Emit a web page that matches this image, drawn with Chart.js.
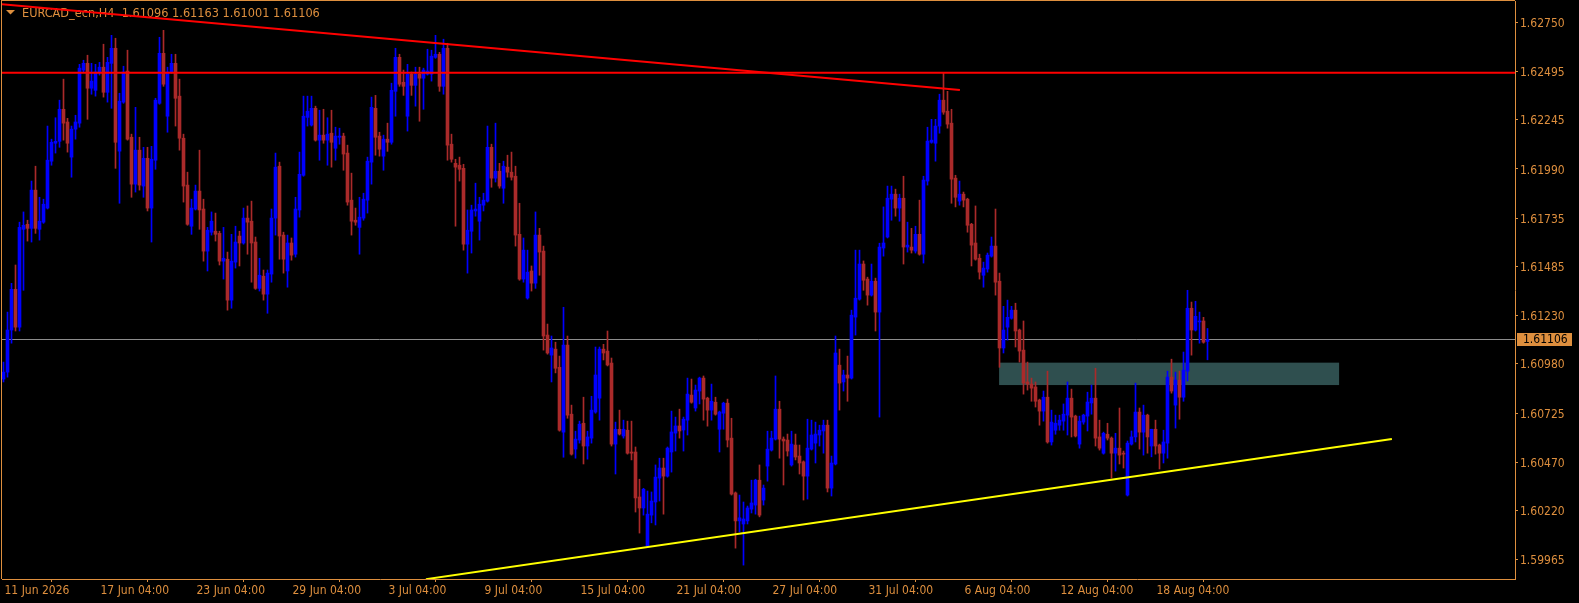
<!DOCTYPE html>
<html>
<head>
<meta charset="utf-8">
<script src="https://cdn.jsdelivr.net/npm/chart.js@4.4.0/dist/chart.umd.min.js"></script>
<style>
  html, body { margin: 0; padding: 0; background: #000; overflow: hidden; }
  canvas { display: block; }
</style>
</head>
<body>
<canvas id="chart" width="1579" height="603"></canvas>
<script>
const symbol = 'EURCAD_ecn,H4';

// H4 candles, bar 0 = 11 Jun 2026 00:00
const opens = [
  1.60901,1.60937,1.61155,1.61366,1.61170,1.61677,1.61703,1.61682,1.61880,1.61677,
  1.61714,1.61787,1.62030,1.62123,1.62133,1.62299,1.62233,1.62051,1.62196,1.62227,
  1.62502,1.62537,1.62408,1.62397,1.62492,1.62517,1.62387,1.62537,1.62615,1.62082,
  1.62336,1.62497,1.62154,1.61911,1.62087,1.61901,1.62045,1.61787,1.62035,1.62330,
  1.62589,1.62263,1.62492,1.62537,1.62367,1.62149,1.61906,1.61693,1.61782,1.61875,
  1.61782,1.61564,1.61662,1.61667,1.61656,1.61512,1.61522,1.61310,1.61507,1.61642,
  1.61606,1.61735,1.61719,1.61611,1.61371,1.61434,1.61341,1.61445,1.61735,1.62004,
  1.61647,1.61461,1.61606,1.61548,1.61777,1.61957,1.62257,1.62217,1.62304,1.62139,
  1.62165,1.62139,1.62175,1.62097,1.62154,1.62160,1.62072,1.61828,1.61724,1.61687,
  1.61735,1.61828,1.62025,1.62304,1.62160,1.62056,1.62144,1.62128,1.62392,1.62568,
  1.62439,1.62263,1.62481,1.62423,1.62481,1.62460,1.62481,1.62481,1.62568,1.62584,
  1.62418,1.62615,1.62118,1.62019,1.62009,1.61993,1.61600,1.61667,1.61772,1.61719,
  1.61802,1.61823,1.62102,1.61942,1.61978,1.61890,1.61999,1.61973,1.61952,1.61651,
  1.61419,1.61321,1.61461,1.61398,1.61647,1.61564,1.61129,1.61025,1.61056,1.60962,
  1.60626,1.61077,1.60719,1.60538,1.60585,1.60672,1.60554,1.60595,1.60730,1.60802,
  1.61056,1.61046,1.60984,1.60564,1.60641,1.60606,1.60636,1.60523,1.60523,1.60290,
  1.60233,1.60036,1.60196,1.60264,1.60388,1.60440,1.60398,1.60523,1.60621,1.60658,
  1.60637,1.60688,1.60818,1.60751,1.60839,1.60906,1.60802,1.60740,1.60781,1.60641,
  1.60724,1.60776,1.60595,1.60311,1.60166,1.60150,1.60166,1.60227,1.60248,1.60377,
  1.60274,1.60450,1.60533,1.60590,1.60745,1.60590,1.60585,1.60456,1.60559,1.60502,
  1.60472,1.60398,1.60538,1.60569,1.60611,1.60632,1.60662,1.60336,1.60461,1.60973,
  1.60886,1.60922,1.60906,1.61222,1.61315,1.61497,1.61419,1.61336,1.61408,1.61248,
  1.61580,1.61637,1.61833,1.61859,1.61787,1.61838,1.61585,1.61585,1.61564,1.61651,
  1.61548,1.61927,1.62128,1.62123,1.62212,1.62346,1.62289,1.62227,1.61942,1.61823,
  1.61859,1.61833,1.61703,1.61606,1.61527,1.61439,1.61471,1.61538,1.61590,1.61408,
  1.61062,1.61170,1.61216,1.61258,1.61155,1.61051,1.60886,1.60875,1.60860,1.60792,
  1.60735,1.60807,1.60575,1.60636,1.60662,1.60683,1.60714,1.60802,1.60709,1.60564,
  1.60678,1.60709,1.60777,1.60802,1.60601,1.60517,1.60615,1.60595,1.60517,1.60543,
  1.60517,1.60300,1.60564,1.60601,1.60730,1.60626,1.60714,1.60554,1.60641,1.60559,
  1.60517,1.60569,1.60911,1.60766,1.60896,1.60807,1.60942,1.61268,1.61155,1.61197,
  1.61202,1.61096
];
const highs = [
  1.60989,1.61248,1.61397,1.61492,1.61714,1.61767,1.61724,1.61927,1.62004,1.61843,
  1.61833,1.62212,1.62144,1.62255,1.62346,1.62455,1.62252,1.62212,1.62268,1.62532,
  1.62553,1.62579,1.62537,1.62532,1.62542,1.62636,1.62568,1.62682,1.62667,1.62382,
  1.62522,1.62605,1.62170,1.62309,1.62154,1.62102,1.62102,1.62107,1.62356,1.62672,
  1.62708,1.62517,1.62584,1.62584,1.62455,1.62170,1.61973,1.61833,1.61906,1.62087,
  1.61833,1.61687,1.61767,1.61761,1.61667,1.61687,1.61559,1.61651,1.61693,1.61667,
  1.61787,1.61798,1.61823,1.61637,1.61527,1.61466,1.61466,1.61782,1.62072,1.62025,
  1.61662,1.61647,1.61632,1.61843,1.62077,1.62367,1.62367,1.62367,1.62315,1.62294,
  1.62299,1.62255,1.62294,1.62206,1.62201,1.62175,1.62113,1.61968,1.61787,1.61843,
  1.61864,1.62051,1.62362,1.62371,1.62180,1.62165,1.62227,1.62434,1.62615,1.62584,
  1.62502,1.62532,1.62492,1.62517,1.62517,1.62512,1.62610,1.62605,1.62682,1.62594,
  1.62662,1.62641,1.62170,1.62040,1.62051,1.62014,1.61777,1.61802,1.61916,1.61843,
  1.61864,1.62212,1.62118,1.62227,1.62019,1.62030,1.62061,1.62077,1.62004,1.61812,
  1.61632,1.61569,1.61487,1.61767,1.61682,1.61590,1.61186,1.61124,1.61092,1.61020,
  1.61273,1.61124,1.60766,1.60631,1.60683,1.60807,1.60631,1.60812,1.61067,1.61067,
  1.61081,1.61150,1.61010,1.60678,1.60740,1.60688,1.60683,1.60683,1.60549,1.60382,
  1.60335,1.60321,1.60316,1.60456,1.60491,1.60491,1.60549,1.60735,1.60704,1.60745,
  1.60704,1.60906,1.60901,1.60870,1.60911,1.60917,1.60807,1.60875,1.60807,1.60735,
  1.60781,1.60797,1.60698,1.60316,1.60300,1.60264,1.60243,1.60377,1.60382,1.60456,
  1.60352,1.60631,1.60631,1.60917,1.60786,1.60601,1.60616,1.60631,1.60616,1.60559,
  1.60477,1.60693,1.60688,1.60678,1.60662,1.60688,1.60688,1.60502,1.61124,1.61056,
  1.60947,1.61020,1.61258,1.61569,1.61569,1.61513,1.61429,1.61497,1.61424,1.61605,
  1.61793,1.61901,1.61901,1.61885,1.61859,1.61952,1.61714,1.61682,1.61693,1.61828,
  1.61952,1.62206,1.62247,1.62247,1.62377,1.62486,1.62392,1.62299,1.61957,1.61927,
  1.61870,1.61838,1.61708,1.61798,1.61548,1.61507,1.61554,1.61637,1.61782,1.61450,
  1.61278,1.61310,1.61278,1.61294,1.61160,1.61202,1.60989,1.60906,1.60886,1.60797,
  1.60839,1.60942,1.60740,1.60714,1.60714,1.60772,1.60886,1.60849,1.60714,1.60709,
  1.60719,1.60833,1.60870,1.60957,1.60688,1.60626,1.60672,1.60601,1.60620,1.60751,
  1.60528,1.60580,1.60632,1.60880,1.60751,1.60766,1.60719,1.60641,1.60688,1.60564,
  1.60636,1.60942,1.61004,1.60937,1.60942,1.61041,1.61361,1.61300,1.61304,1.61248,
  1.61221,1.61163
];
const lows = [
  1.60886,1.60911,1.61087,1.61150,1.61150,1.61361,1.61616,1.61611,1.61656,1.61621,
  1.61708,1.61782,1.62009,1.62072,1.62102,1.62139,1.62077,1.61947,1.62144,1.62206,
  1.62492,1.62247,1.62377,1.62367,1.62476,1.62362,1.62336,1.62304,1.61993,1.61812,
  1.62330,1.62139,1.61843,1.61870,1.61880,1.61843,1.61772,1.61611,1.61988,1.62325,
  1.62418,1.62180,1.62486,1.62212,1.62087,1.61818,1.61698,1.61651,1.61777,1.61677,
  1.61512,1.61461,1.61647,1.61616,1.61492,1.61419,1.61258,1.61268,1.61476,1.61487,
  1.61600,1.61548,1.61403,1.61366,1.61357,1.61310,1.61242,1.61403,1.61647,1.61522,
  1.61450,1.61377,1.61517,1.61533,1.61740,1.61952,1.62212,1.62212,1.62134,1.62035,
  1.62123,1.62009,1.61999,1.62035,1.62118,1.61983,1.61802,1.61647,1.61698,1.61548,
  1.61724,1.61761,1.61911,1.62061,1.62056,1.61983,1.62081,1.62118,1.62263,1.62418,
  1.62371,1.62186,1.62371,1.62315,1.62237,1.62299,1.62476,1.62445,1.62563,1.62392,
  1.62377,1.62035,1.62025,1.61693,1.61927,1.61569,1.61450,1.61554,1.61745,1.61621,
  1.61772,1.61818,1.61895,1.61922,1.61890,1.61812,1.61947,1.61932,1.61590,1.61413,
  1.61403,1.61315,1.61357,1.61371,1.61439,1.61051,1.61030,1.60886,1.60933,1.60631,
  1.60496,1.60698,1.60507,1.60491,1.60569,1.60461,1.60486,1.60569,1.60724,1.60688,
  1.61000,1.60969,1.60554,1.60409,1.60611,1.60595,1.60512,1.60482,1.60212,1.60103,
  1.60196,1.60031,1.60156,1.60145,1.60269,1.60201,1.60393,1.60419,1.60528,1.60595,
  1.60528,1.60611,1.60776,1.60735,1.60772,1.60688,1.60657,1.60688,1.60714,1.60523,
  1.60641,1.60549,1.60300,1.60025,1.60109,1.59937,1.60150,1.60207,1.60201,1.60187,
  1.60248,1.60372,1.60528,1.60585,1.60491,1.60352,1.60502,1.60450,1.60482,1.60409,
  1.60274,1.60279,1.60533,1.60466,1.60554,1.60517,1.60316,1.60295,1.60456,1.60740,
  1.60839,1.60786,1.60901,1.61129,1.61310,1.61361,1.61284,1.61331,1.61150,1.60704,
  1.61538,1.61632,1.61724,1.61745,1.61719,1.61497,1.61559,1.61554,1.61554,1.61543,
  1.61502,1.61906,1.62123,1.62030,1.62175,1.62273,1.62201,1.61812,1.61793,1.61802,
  1.61793,1.61662,1.61487,1.61517,1.61419,1.61377,1.61455,1.61533,1.61336,1.60962,
  1.61036,1.61103,1.61211,1.61067,1.60989,1.60823,1.60844,1.60786,1.60756,1.60662,
  1.60683,1.60569,1.60559,1.60615,1.60636,1.60636,1.60611,1.60601,1.60601,1.60543,
  1.60667,1.60632,1.60719,1.60554,1.60533,1.60512,1.60585,1.60388,1.60424,1.60461,
  1.60440,1.60295,1.60559,1.60575,1.60538,1.60507,1.60517,1.60498,1.60512,1.60435,
  1.60466,1.60491,1.60828,1.60647,1.60693,1.60786,1.60891,1.61025,1.61150,1.61087,
  1.61087,1.61001
];
const closes = [
  1.60937,1.61155,1.61366,1.61170,1.61687,1.61698,1.61682,1.61880,1.61682,1.61719,
  1.61807,1.62035,1.62128,1.62133,1.62299,1.62227,1.62123,1.62196,1.62233,1.62512,
  1.62537,1.62408,1.62445,1.62492,1.62517,1.62387,1.62542,1.62615,1.62128,1.62341,
  1.62492,1.62144,1.61911,1.62087,1.61906,1.62045,1.61787,1.62040,1.62346,1.62589,
  1.62429,1.62492,1.62537,1.62356,1.62149,1.61901,1.61703,1.61787,1.61875,1.61777,
  1.61564,1.61672,1.61719,1.61651,1.61512,1.61527,1.61310,1.61512,1.61611,1.61606,
  1.61735,1.61714,1.61606,1.61371,1.61439,1.61341,1.61450,1.61735,1.61999,1.61642,
  1.61522,1.61606,1.61543,1.61782,1.61962,1.62263,1.62289,1.62304,1.62139,1.62165,
  1.62139,1.62170,1.62128,1.62160,1.62160,1.62067,1.61818,1.61719,1.61714,1.61740,
  1.61833,1.62030,1.62309,1.62154,1.62092,1.62144,1.62128,1.62397,1.62568,1.62429,
  1.62418,1.62481,1.62423,1.62481,1.62460,1.62502,1.62497,1.62574,1.62584,1.62418,
  1.62615,1.62113,1.62040,1.61999,1.61988,1.61600,1.61672,1.61777,1.61782,1.61807,
  1.61828,1.62102,1.61942,1.61978,1.61901,1.62004,1.61973,1.61947,1.61647,1.61419,
  1.61569,1.61455,1.61398,1.61647,1.61559,1.61124,1.61036,1.61062,1.60957,1.60636,
  1.61077,1.60714,1.60512,1.60590,1.60667,1.60554,1.60601,1.60740,1.60922,1.61056,
  1.61036,1.60974,1.60564,1.60641,1.60616,1.60641,1.60517,1.60517,1.60285,1.60233,
  1.60330,1.60201,1.60269,1.60393,1.60440,1.60398,1.60543,1.60627,1.60658,1.60632,
  1.60693,1.60823,1.60781,1.60844,1.60906,1.60797,1.60740,1.60786,1.60719,1.60730,
  1.60776,1.60585,1.60305,1.60166,1.60182,1.60176,1.60233,1.60259,1.60377,1.60196,
  1.60336,1.60538,1.60595,1.60745,1.60590,1.60580,1.60528,1.60564,1.60497,1.60466,
  1.60398,1.60543,1.60611,1.60616,1.60636,1.60662,1.60336,1.60466,1.61036,1.60880,
  1.60922,1.60906,1.61232,1.61320,1.61497,1.61413,1.61336,1.61408,1.61248,1.61585,
  1.61606,1.61838,1.61859,1.61787,1.61838,1.61585,1.61595,1.61569,1.61651,1.61548,
  1.61932,1.62134,1.62139,1.62212,1.62346,1.62284,1.62222,1.61937,1.61843,1.61859,
  1.61828,1.61698,1.61595,1.61522,1.61455,1.61476,1.61543,1.61590,1.61403,1.61062,
  1.61155,1.61221,1.61258,1.61150,1.61046,1.60880,1.60875,1.60854,1.60786,1.60735,
  1.60807,1.60575,1.60678,1.60672,1.60688,1.60719,1.60802,1.60704,1.60606,1.60683,
  1.60714,1.60782,1.60802,1.60595,1.60543,1.60620,1.60595,1.60517,1.60543,1.60507,
  1.60512,1.60569,1.60601,1.60730,1.60626,1.60714,1.60601,1.60641,1.60554,1.60517,
  1.60575,1.60911,1.60839,1.60896,1.60807,1.60947,1.61268,1.61155,1.61226,1.61202,
  1.61092,1.61106
];

const bidPrice = 1.61106;
const resistancePrice = 1.62488;
// trend lines: [bar index, price]
const upperTrend = [[-0.9, 1.62844], [239.1, 1.62399]];
const lowerTrend = [[105.6, 1.59864], [347.1, 1.60590]];
// shaded zone: bar range and price range
const zoneBars = [248.9, 333.9];
const zonePrices = [1.60870, 1.60986];

const priceTicks = [1.62750, 1.62495, 1.62245, 1.61990, 1.61735, 1.61485, 1.61230, 1.60980, 1.60725, 1.60470, 1.60220, 1.59965];
const timeTickBars = [0, 24, 48, 72, 96, 120, 144, 168, 192, 216, 240, 264, 288];
const timeLabels = ['11 Jun 2026', '17 Jun 04:00', '23 Jun 04:00', '29 Jun 04:00', '3 Jul 04:00', '9 Jul 04:00',
  '15 Jul 04:00', '21 Jul 04:00', '27 Jul 04:00', '31 Jul 04:00', '6 Aug 04:00', '12 Aug 04:00', '18 Aug 04:00'];

const BULL = '#0000ff';
const BEAR = '#aa2a2a';
const FG = '#de8f3e';
const FONT = "'DejaVu Sans Condensed', 'Liberation Sans Narrow', sans-serif";

const idx = opens.map((_, i) => i);
const candleColors = idx.map(i => closes[i] >= opens[i] ? BULL : BEAR);
const last = opens.length - 1;

// zone, title and frame
const mt4Extras = {
  id: 'mt4Extras',
  beforeDatasetsDraw(chart) {
    const { ctx, scales: { x, y } } = chart;
    const ca = chart.chartArea;
    ctx.save();
    ctx.fillStyle = '#2f4f4f';
    const x1 = x.getPixelForValue(zoneBars[0]), x2 = x.getPixelForValue(zoneBars[1]);
    const y1 = y.getPixelForValue(zonePrices[1]), y2 = y.getPixelForValue(zonePrices[0]);
    ctx.fillRect(x1, y1, x2 - x1, y2 - y1);

    // title
    ctx.fillStyle = FG;
    ctx.beginPath();
    ctx.moveTo(6, 10); ctx.lineTo(15, 10); ctx.lineTo(10.5, 14.5); ctx.closePath();
    ctx.fill();
    ctx.font = '12.6px ' + FONT;
    ctx.textBaseline = 'alphabetic';
    const ohlc = [opens[last], highs[last], lows[last], closes[last]].map(v => v.toFixed(5)).join(' ');
    ctx.fillText(symbol + '  ' + ohlc, 22, 17);

    // left / top frame
    ctx.fillRect(ca.left - 1, ca.top - 1, 1, ca.bottom - ca.top + 1);
    ctx.fillRect(ca.left - 1, ca.top - 1, ca.right - ca.left + 1, 1);
    ctx.restore();
  },
  afterDraw(chart) {
    const { ctx, scales: { y } } = chart;
    const ca = chart.chartArea;
    const py = Math.round(y.getPixelForValue(bidPrice));
    ctx.save();
    ctx.fillStyle = FG;
    ctx.fillRect(ca.right + 2, py - 7, 55, 13);
    ctx.fillStyle = '#000';
    ctx.font = '12px ' + FONT;
    ctx.textBaseline = 'middle';
    ctx.fillText(bidPrice.toFixed(5), ca.right + 8, py);
    ctx.restore();
  }
};

const lineDs = (pts, color, width, order) => ({
  type: 'line',
  data: pts.map(p => ({ x: p[0], y: p[1] })),
  borderColor: color,
  borderWidth: width,
  pointRadius: 0,
  tension: 0,
  fill: false,
  order: order
});

new Chart(document.getElementById('chart'), {
  type: 'bar',
  data: {
    datasets: [
      lineDs([[-1, bidPrice], [378, bidPrice]], '#8c8c8c', 1, 5),
      {
        label: 'wick',
        data: idx.map(i => ({ x: i, y: [lows[i], highs[i]] })),
        backgroundColor: candleColors,
        barThickness: 1,
        maxBarThickness: 1,
        grouped: false,
        order: 4
      },
      {
        label: 'body',
        data: idx.map(i => ({ x: i, y: [opens[i], closes[i]] })),
        backgroundColor: candleColors,
        barThickness: 3,
        maxBarThickness: 3,
        minBarLength: 1,
        grouped: false,
        order: 3
      },
      lineDs([[-1, resistancePrice], [378, resistancePrice]], '#ff0000', 2, 1),
      lineDs(upperTrend, '#ff0000', 2, 1),
      lineDs(lowerTrend, '#ffff00', 2, 1)
    ]
  },
  options: {
    responsive: false,
    animation: false,
    devicePixelRatio: 1,
    layout: { padding: { left: 2, top: 1, right: 0, bottom: 0 } },
    plugins: { legend: { display: false }, tooltip: { enabled: false } },
    scales: {
      x: {
        type: 'linear',
        min: -0.375,
        max: 377.875,
        offset: false,
        afterBuildTicks: s => { s.ticks = timeTickBars.map(v => ({ value: v })); },
        afterFit: s => { s.height = 24; s.paddingLeft = 0; s.paddingRight = 0; },
        grid: { drawOnChartArea: false, drawTicks: true, tickLength: 3, color: FG },
        border: { display: true, color: FG, width: 1 },
        ticks: {
          color: FG,
          font: { family: FONT, size: 12 },
          align: 'start',
          labelOffset: 1,
          padding: 2,
          maxRotation: 0,
          autoSkip: false,
          callback: (v, i) => timeLabels[i]
        }
      },
      y: {
        position: 'right',
        min: 1.59865,
        max: 1.62860,
        afterBuildTicks: s => { s.ticks = priceTicks.map(v => ({ value: v })); },
        afterFit: s => { s.width = 64; s.paddingTop = 0; s.paddingBottom = 0; },
        grid: { drawOnChartArea: false, drawTicks: true, tickLength: 3, color: FG },
        border: { display: true, color: FG, width: 1 },
        ticks: {
          color: FG,
          font: { family: FONT, size: 12 },
          padding: 2,
          labelOffset: 1.5,
          autoSkip: false,
          callback: v => v.toFixed(5)
        }
      }
    }
  },
  plugins: [mt4Extras]
});
</script>
</body>
</html>
